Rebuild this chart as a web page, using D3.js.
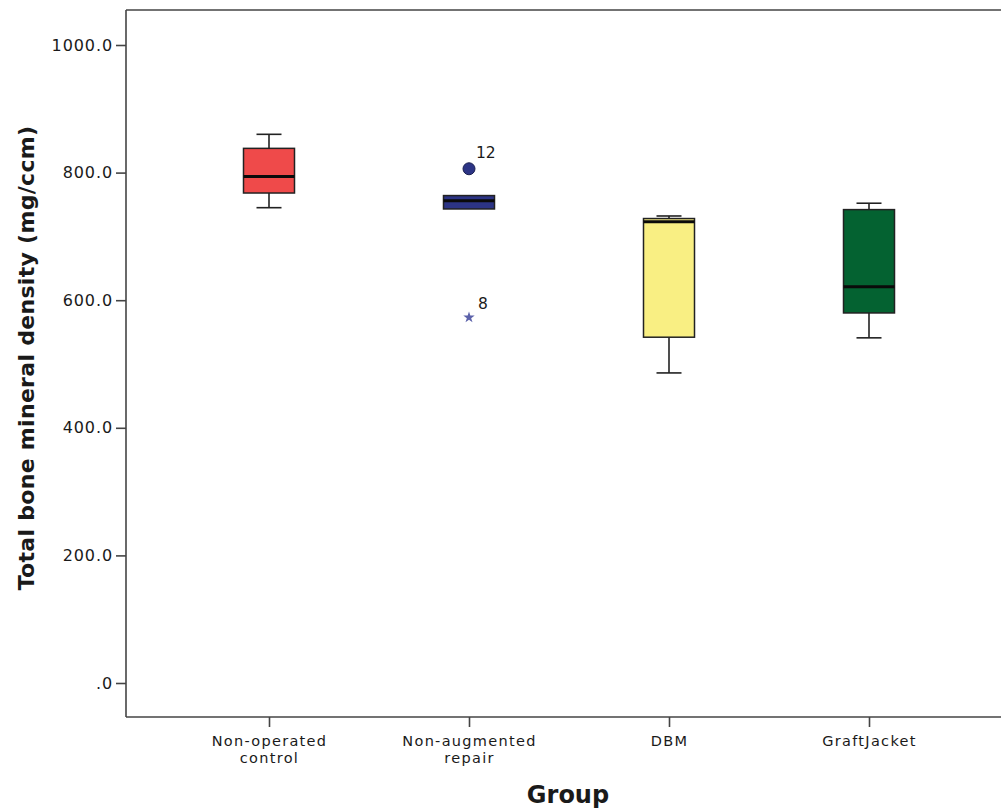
<!DOCTYPE html>
<html>
<head>
<meta charset="utf-8">
<script src="https://cdn.jsdelivr.net/npm/d3@7"></script>
<style>
  html, body { margin: 0; padding: 0; background: #fff; }
  svg { display: block; }
  text { font-family: "DejaVu Sans", sans-serif; fill: #1a1a1a; }
</style>
</head>
<body>
<svg id="chart" width="1001" height="810"></svg>
<script>
// Box-plot summary per group (mg/ccm)
const groups = ["Non-operated control", "Non-augmented repair", "DBM", "GraftJacket"];
const groupLines = [["Non-operated", "control"], ["Non-augmented", "repair"], ["DBM"], ["GraftJacket"]];
const whiskerLow  = [745, 743, 486, 541];
const q1          = [768, 743, 542, 580];
const median      = [794, 756, 723, 621];
const q3          = [838, 764, 728, 742];
const whiskerHigh = [860, 764, 732, 752];
const colors      = ["#ef4a4a", "#2c3485", "#f9ef83", "#046231"];

// Flagged cases in the non-augmented repair group
const outliers = [
  { group: "Non-augmented repair", value: 806, label: "12", kind: "circle" },
  { group: "Non-augmented repair", value: 573, label: "8",  kind: "star" }
];

const yTicks = [0, 200, 400, 600, 800, 1000];
const yTickLabels = [".0", "200.0", "400.0", "600.0", "800.0", "1000.0"];

const svg = d3.select("#chart");
const plotLeft = 126, plotTop = 10, plotBottom = 717, plotRight = 1001;

const y = d3.scaleLinear().domain([0, 1000]).range([683, 45]);
const x = d3.scalePoint().domain(groups).range([269, 869]);

// Frame: left, top and bottom lines
const frame = svg.append("g").attr("stroke", "#444").attr("stroke-width", 1.6).attr("fill", "none");
frame.append("line").attr("x1", plotLeft).attr("x2", plotLeft).attr("y1", plotTop).attr("y2", plotBottom);
frame.append("line").attr("x1", plotLeft).attr("x2", plotRight).attr("y1", plotTop).attr("y2", plotTop);
frame.append("line").attr("x1", plotLeft).attr("x2", plotRight).attr("y1", plotBottom).attr("y2", plotBottom);

// Y axis
const yAxis = svg.append("g")
  .attr("transform", `translate(${plotLeft},0)`)
  .call(d3.axisLeft(y).tickValues(yTicks).tickSize(10).tickSizeOuter(0)
    .tickFormat((d, i) => yTickLabels[i]));
yAxis.select(".domain").remove();
yAxis.selectAll(".tick line").attr("stroke", "#444").attr("stroke-width", 1.6);
yAxis.selectAll(".tick text").attr("x", -13).style("font-size", "16px")
  .style("letter-spacing", "0.9px")
  .style("font-family", "'DejaVu Sans', sans-serif").attr("fill", "#1a1a1a");

// X axis
const xAxis = svg.append("g")
  .attr("transform", `translate(0,${plotBottom})`)
  .call(d3.axisBottom(x).tickSize(10).tickSizeOuter(0).tickFormat(""));
xAxis.select(".domain").remove();
xAxis.selectAll(".tick line").attr("stroke", "#444").attr("stroke-width", 1.6);
xAxis.selectAll(".tick").each(function(d, i) {
  const tick = d3.select(this);
  groupLines[i].forEach((line, j) => {
    tick.append("text")
      .attr("text-anchor", "middle")
      .attr("x", 0).attr("y", 29 + j * 17)
      .style("font-size", "14.5px")
      .style("letter-spacing", "1.3px")
      .attr("fill", "#1a1a1a")
      .text(line);
  });
});

// Boxes
const boxW = 51, capW = 25;
const boxes = svg.append("g");
groups.forEach((g, i) => {
  const cx = x(g);
  const b = boxes.append("g");
  b.append("line").attr("x1", cx).attr("x2", cx)
    .attr("y1", y(whiskerHigh[i])).attr("y2", y(q3[i]))
    .attr("stroke", "#222").attr("stroke-width", 1.6);
  b.append("line").attr("x1", cx).attr("x2", cx)
    .attr("y1", y(q1[i])).attr("y2", y(whiskerLow[i]))
    .attr("stroke", "#222").attr("stroke-width", 1.6);
  if (whiskerHigh[i] > q3[i]) {
    b.append("line").attr("x1", cx - capW / 2).attr("x2", cx + capW / 2)
      .attr("y1", y(whiskerHigh[i])).attr("y2", y(whiskerHigh[i]))
      .attr("stroke", "#222").attr("stroke-width", 1.6);
  }
  if (whiskerLow[i] < q1[i]) {
    b.append("line").attr("x1", cx - capW / 2).attr("x2", cx + capW / 2)
      .attr("y1", y(whiskerLow[i])).attr("y2", y(whiskerLow[i]))
      .attr("stroke", "#222").attr("stroke-width", 1.6);
  }
  b.append("rect")
    .attr("x", cx - boxW / 2).attr("width", boxW)
    .attr("y", y(q3[i])).attr("height", y(q1[i]) - y(q3[i]))
    .attr("fill", colors[i]).attr("stroke", "#222").attr("stroke-width", 1.5);
  b.append("line").attr("x1", cx - boxW / 2).attr("x2", cx + boxW / 2)
    .attr("y1", y(median[i])).attr("y2", y(median[i]))
    .attr("stroke", "#0a0a0a").attr("stroke-width", 3);
});

// Outliers and extreme values with case labels
const marks = svg.append("g");
outliers.forEach(o => {
  const cx = x(o.group), cy = y(o.value);
  if (o.kind === "circle") {
    marks.append("circle").attr("cx", cx).attr("cy", cy).attr("r", 6)
      .attr("fill", "#2c3485").attr("stroke", "#1a1f4f").attr("stroke-width", 1);
    marks.append("text").attr("x", cx + 7).attr("y", cy - 11)
      .style("font-size", "15.5px").text(o.label);
  } else {
    marks.append("path")
      .attr("d", d3.symbol(d3.symbolStar, 40)())
      .attr("transform", `translate(${cx},${cy})`)
      .attr("fill", "#5c62aa");
    marks.append("text").attr("x", cx + 9).attr("y", cy - 8)
      .style("font-size", "15.5px").text(o.label);
  }
});

// Axis titles
svg.append("text")
  .attr("transform", `translate(34,358) rotate(-90)`)
  .attr("text-anchor", "middle")
  .style("font-size", "22px").style("font-weight", "bold")
  .style("letter-spacing", "0.3px")
  .text("Total bone mineral density (mg/ccm)");

svg.append("text")
  .attr("x", 568).attr("y", 803)
  .attr("text-anchor", "middle")
  .style("font-size", "24px").style("font-weight", "bold")
  .text("Group");
</script>
</body>
</html>
